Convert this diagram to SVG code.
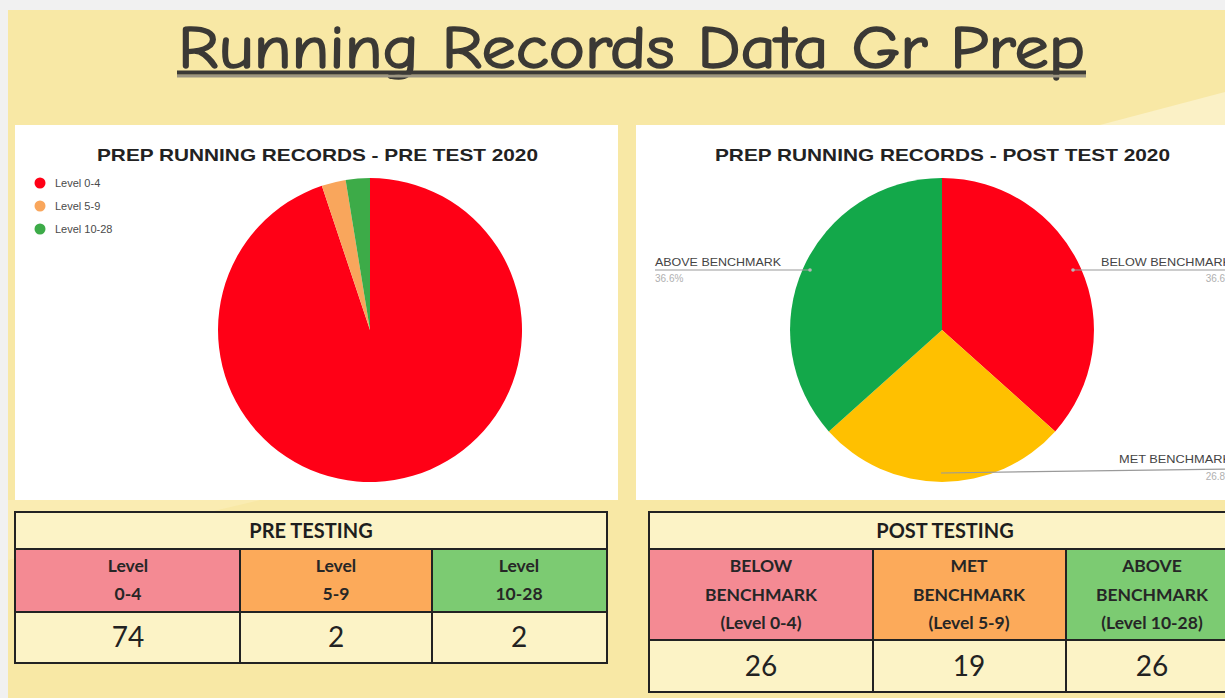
<svg xmlns="http://www.w3.org/2000/svg" width="1225" height="698" viewBox="0 0 1225 698">
  <style>
    .ttl { font-family: "Liberation Sans", Arial, sans-serif; font-weight: bold; font-size: 17px; fill: #222; }
    .leg { font-family: "Liberation Sans", Arial, sans-serif; font-size: 11px; fill: #4a4a4a; }
    .lab { font-family: "Liberation Sans", Arial, sans-serif; font-size: 11px; fill: #444; }
    .pct { font-family: "Liberation Sans", Arial, sans-serif; font-size: 10px; fill: #b0b0b0; }
    .lead { stroke: #9a9a9a; stroke-width: 1.2; fill: none; }
    .cell { stroke: #222; stroke-width: 2; }
    .th { font-family: Lato, "Open Sans", sans-serif; font-weight: bold; font-size: 20px; fill: #1e1e1e; text-anchor: middle; }
    .tl { font-family: Lato, "Open Sans", sans-serif; font-weight: bold; font-size: 17.5px; fill: #262626; text-anchor: middle; }
    .tv { font-family: Lato, "Open Sans", sans-serif; font-size: 28px; fill: #222; text-anchor: middle; }
  </style>

  <!-- page backdrop -->
  <rect x="0" y="0" width="1225" height="698" fill="#f1f1f1"/>
  <rect x="8" y="10" width="1217" height="688" fill="#f8e8a5"/>
  <polygon points="1100,125 1225,92 1225,125" fill="#fbf1c6"/>
  <polygon points="8,500 260,500 8,560" fill="#faecb2"/>

  <!-- heading -->
  <g id="title">
    <text x="178" y="68" font-family="'Comic Neue', 'DejaVu Sans', sans-serif" font-size="60" fill="#3b3935" stroke="#3b3935" stroke-width="1.6" textLength="907" lengthAdjust="spacingAndGlyphs">Running Records Data Gr Prep</text>
    <line x1="177" y1="76" x2="1086" y2="76" stroke="#9c9582" stroke-width="3"/>
    <line x1="177" y1="72.5" x2="1086" y2="72.5" stroke="#3b3935" stroke-width="4"/>
  </g>

  <!-- pre-test pie chart -->
  <g id="pre-chart">
    <rect x="15" y="125" width="603" height="375" fill="#ffffff"/>
    <text class="ttl" x="97" y="161" textLength="441" lengthAdjust="spacingAndGlyphs">PREP RUNNING RECORDS - PRE TEST 2020</text>
    <circle cx="40" cy="183" r="5.5" fill="#ff0016"/>
    <text class="leg" x="55" y="187">Level 0-4</text>
    <circle cx="40" cy="206" r="5.5" fill="#f9a65c"/>
    <text class="leg" x="55" y="210">Level 5-9</text>
    <circle cx="40" cy="229" r="5.5" fill="#3dab48"/>
    <text class="leg" x="55" y="233">Level 10-28</text>
    <path d="M370,330 L370,178 A152,152 0 1 1 321.86,185.83 Z" fill="#ff0016"/>
    <path d="M370,330 L321.86,185.83 A152,152 0 0 1 345.62,179.96 Z" fill="#f9a65c"/>
    <path d="M370,330 L345.62,179.96 A152,152 0 0 1 370,178 Z" fill="#3dab48"/>
  </g>

  <!-- post-test pie chart -->
  <g id="post-chart">
    <rect x="636" y="125" width="600" height="375" fill="#ffffff"/>
    <text class="ttl" x="715" y="161" textLength="455" lengthAdjust="spacingAndGlyphs">PREP RUNNING RECORDS - POST TEST 2020</text>
    <path d="M942,330 L942,178 A152,152 0 0 1 1055.2,431.4 Z" fill="#ff0016"/>
    <path d="M942,330 L1055.2,431.4 A152,152 0 0 1 828.8,431.4 Z" fill="#ffc000"/>
    <path d="M942,330 L828.8,431.4 A152,152 0 0 1 942,178 Z" fill="#13a84a"/>
  </g>

  <!-- slice callouts -->
  <g id="connectors">
    <line class="lead" x1="655" y1="270" x2="810" y2="270"/>
    <circle cx="810" cy="270" r="1.8" fill="#b8b8b8"/>
    <line class="lead" x1="1073" y1="270" x2="1230" y2="270"/>
    <circle cx="1073" cy="270" r="1.8" fill="#b8b8b8"/>
    <line class="lead" x1="941" y1="473" x2="1230" y2="469"/>
  </g>
  <g id="label-above">
    <text class="lab" x="655" y="266" textLength="126" lengthAdjust="spacingAndGlyphs">ABOVE BENCHMARK</text>
    <text class="pct" x="655" y="282">36.6%</text>
  </g>
  <g id="label-below">
    <text class="lab" x="1101" y="266" textLength="130" lengthAdjust="spacingAndGlyphs">BELOW BENCHMARK</text>
    <text class="pct" x="1234" y="282" text-anchor="end">36.6%</text>
  </g>
  <g id="label-met">
    <text class="lab" x="1119" y="463" textLength="112" lengthAdjust="spacingAndGlyphs">MET BENCHMARK</text>
    <text class="pct" x="1234" y="480" text-anchor="end">26.8%</text>
  </g>

  <!-- pre-testing table -->
  <g id="pre-table">
    <rect class="cell" x="15" y="512" width="592" height="37" fill="#fcf3c6"/>
    <rect class="cell" x="15" y="549" width="225" height="63" fill="#f48a93"/>
    <rect class="cell" x="240" y="549" width="192" height="63" fill="#fcaa5a"/>
    <rect class="cell" x="432" y="549" width="175" height="63" fill="#7ccb72"/>
    <rect class="cell" x="15" y="612" width="225" height="51" fill="#fcf3c6"/>
    <rect class="cell" x="240" y="612" width="192" height="51" fill="#fcf3c6"/>
    <rect class="cell" x="432" y="612" width="175" height="51" fill="#fcf3c6"/>
    <text class="th" x="311" y="538">PRE TESTING</text>
    <text class="tl" x="128" y="572">Level</text>
    <text class="tl" x="128" y="600">0-4</text>
    <text class="tl" x="336" y="572">Level</text>
    <text class="tl" x="336" y="600">5-9</text>
    <text class="tl" x="519" y="572">Level</text>
    <text class="tl" x="519" y="600">10-28</text>
    <text class="tv" x="128" y="647">74</text>
    <text class="tv" x="336" y="647">2</text>
    <text class="tv" x="519" y="647">2</text>
  </g>

  <!-- post-testing table -->
  <g id="post-table">
    <rect class="cell" x="649" y="512" width="590" height="37" fill="#fcf3c6"/>
    <rect class="cell" x="649" y="549" width="224" height="91" fill="#f48a93"/>
    <rect class="cell" x="873" y="549" width="193" height="91" fill="#fcaa5a"/>
    <rect class="cell" x="1066" y="549" width="173" height="91" fill="#7ccb72"/>
    <rect class="cell" x="649" y="640" width="224" height="52" fill="#fcf3c6"/>
    <rect class="cell" x="873" y="640" width="193" height="52" fill="#fcf3c6"/>
    <rect class="cell" x="1066" y="640" width="173" height="52" fill="#fcf3c6"/>
    <text class="th" x="945" y="538">POST TESTING</text>
    <text class="tl" x="761" y="572">BELOW</text>
    <text class="tl" x="761" y="601">BENCHMARK</text>
    <text class="tl" x="761" y="629">(Level 0-4)</text>
    <text class="tl" x="969" y="572">MET</text>
    <text class="tl" x="969" y="601">BENCHMARK</text>
    <text class="tl" x="969" y="629">(Level 5-9)</text>
    <text class="tl" x="1152" y="572">ABOVE</text>
    <text class="tl" x="1152" y="601">BENCHMARK</text>
    <text class="tl" x="1152" y="629">(Level 10-28)</text>
    <text class="tv" x="761" y="676">26</text>
    <text class="tv" x="969" y="676">19</text>
    <text class="tv" x="1152" y="676">26</text>
  </g>
</svg>
